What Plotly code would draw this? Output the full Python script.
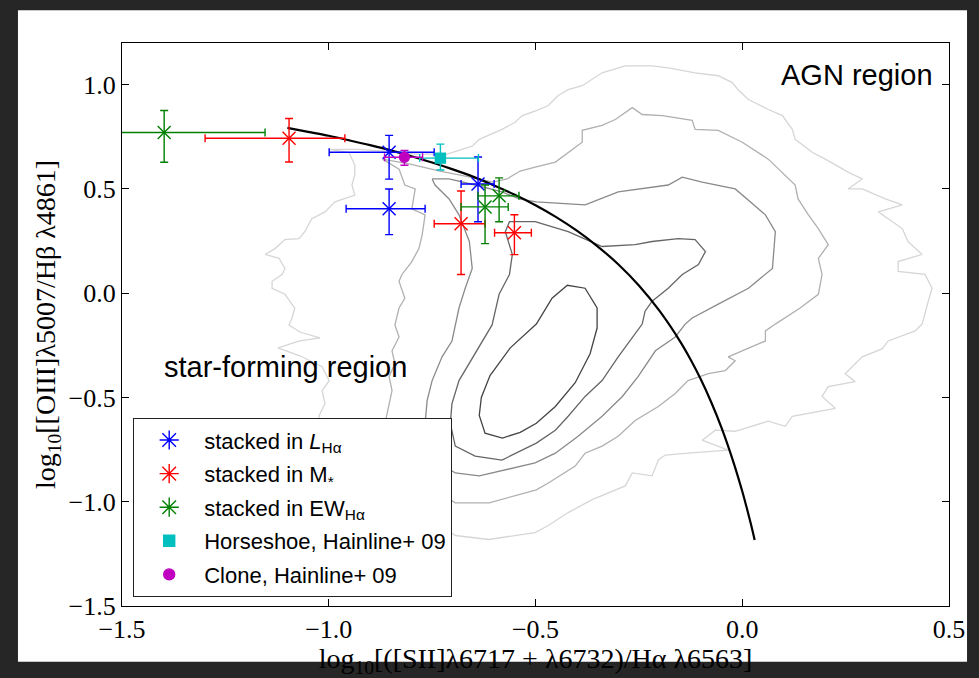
import plotly.graph_objects as go

# ---------------- data ----------------
# stacked in L_Halpha (blue)
lha_x = [-0.854, -0.854, -0.639]
lha_y = [0.676, 0.405, 0.524]
lha_xm = [0.145, 0.104, 0.041]
lha_xp = [0.109, 0.087, 0.039]
lha_yp = [0.081, 0.095, 0.129]
lha_ym = [0.129, 0.124, 0.181]

# stacked in M* (red)
mst_x = [-1.096, -0.680, -0.551]
mst_y = [0.743, 0.333, 0.290]
mst_xm = [0.203, 0.065, 0.048]
mst_xp = [0.135, 0.058, 0.041]
mst_yp = [0.095, 0.157, 0.086]
mst_ym = [0.114, 0.243, 0.105]

# stacked in EW_Halpha (green)
ew_x = [-1.398, -0.622, -0.588]
ew_y = [0.771, 0.414, 0.467]
ew_xm = [0.30, 0.058, 0.051]
ew_xp = [0.244, 0.056, 0.048]
ew_yp = [0.105, 0.105, 0.086]
ew_ym = [0.143, 0.176, 0.124]

# Horseshoe (cyan) and Clone (magenta), Hainline+09
hs_x, hs_y = [-0.730], [0.648]
hs_xm, hs_xp, hs_yp, hs_ym = [0.05], [0.092], [0.067], [0.057]
cl_x, cl_y = [-0.817], [0.652]
cl_xm, cl_xp, cl_yp, cl_ym = [0.048], [0.044], [0.033], [0.038]

# demarcation curve
curve_x = [-1.10, -1.05, -1.00, -0.95, -0.90, -0.85, -0.80, -0.75, -0.70, -0.65,
           -0.60, -0.55, -0.50, -0.45, -0.40, -0.35, -0.30, -0.25, -0.20, -0.15,
           -0.125, -0.10, -0.075, -0.05, -0.02, 0.00, 0.01, 0.02, 0.03]
curve_y = [0.793, 0.774, 0.755, 0.733, 0.710, 0.685, 0.657, 0.627, 0.594, 0.558,
           0.517, 0.472, 0.422, 0.365, 0.300, 0.225, 0.139, 0.037, -0.085, -0.232,
           -0.318, -0.414, -0.523, -0.646, -0.818, -0.950, -1.023, -1.100, -1.183]

# background SDSS density contours (outermost c1 ... innermost c5)
c1_x = [-1.000, -0.932, -0.859, -0.787, -0.714, -0.653, -0.636, -0.595, -0.581, -0.550,
        -0.532, -0.498, -0.469, -0.445, -0.421, -0.387, -0.339, -0.283, -0.218, -0.179,
        -0.114, -0.058, -0.024, -0.010, 0.015, 0.063, 0.097, 0.121, 0.128, 0.169,
        0.201, 0.256, 0.290, 0.256, 0.290, 0.346, 0.387, 0.329, 0.387, 0.401,
        0.435, 0.377, 0.377, 0.442, 0.459, 0.450, 0.435, 0.418, 0.353, 0.338,
        0.290, 0.249, 0.273, 0.208, 0.193, 0.225, 0.121, 0.104, 0.063, -0.017,
        -0.065, -0.097, -0.034, -0.131, -0.186, -0.203, -0.218, -0.266, -0.283, -0.363,
        -0.421, -0.469, -0.501, -0.550, -0.612, -0.694, -0.828, -0.973, -1.016, -1.024,
        -1.009, -1.016, -0.999, -1.016, -1.070, -1.123, -1.070, -1.021, -1.070, -1.096,
        -1.089, -1.082, -1.106, -1.137, -1.137, -1.113, -1.106, -1.120, -1.154, -1.130,
        -1.106, -1.072, -1.058, -1.041, -1.009, -0.985, -0.937, -0.944, -0.937, -0.937,
        -0.951, -1.000]
c1_y = [0.690, 0.690, 0.681, 0.667, 0.667, 0.705, 0.738, 0.771, 0.786, 0.819,
        0.852, 0.876, 0.900, 0.948, 0.976, 0.995, 1.057, 1.090, 1.090, 1.081,
        1.057, 1.043, 1.010, 0.976, 0.929, 0.881, 0.852, 0.786, 0.738, 0.676,
        0.643, 0.581, 0.548, 0.500, 0.500, 0.452, 0.424, 0.390, 0.310, 0.248,
        0.186, 0.152, 0.105, 0.090, 0.024, -0.038, -0.148, -0.181, -0.229, -0.267,
        -0.305, -0.386, -0.424, -0.448, -0.495, -0.552, -0.590, -0.638, -0.614, -0.662,
        -0.657, -0.705, -0.752, -0.767, -0.776, -0.800, -0.876, -0.862, -0.924, -0.990,
        -1.052, -1.114, -1.148, -1.162, -1.181, -1.162, -0.976, -0.738, -0.624, -0.590,
        -0.529, -0.467, -0.419, -0.352, -0.300, -0.262, -0.229, -0.214, -0.186, -0.152,
        -0.119, -0.071, -0.005, 0.024, 0.057, 0.090, 0.119, 0.167, 0.186, 0.214,
        0.257, 0.262, 0.295, 0.357, 0.390, 0.438, 0.471, 0.519, 0.567, 0.614,
        0.676, 0.690]

c2_x = [-0.870, -0.830, -0.816, -0.791, -0.799, -0.767, -0.774, -0.782, -0.799, -0.823,
        -0.830, -0.816, -0.830, -0.840, -0.830, -0.847, -0.840, -0.854, -0.847, -0.854,
        -0.864, -0.828, -0.694, -0.612, -0.498, -0.469, -0.404, -0.380, -0.339, -0.300,
        -0.259, -0.203, -0.162, -0.131, -0.082, -0.041, -0.017, -0.034, 0.000, 0.056,
        0.056, 0.080, 0.140, 0.184, 0.193, 0.184, 0.208, 0.184, 0.160, 0.135,
        0.128, 0.087, 0.063, 0.000, -0.058, -0.114, -0.121, -0.193, -0.242, -0.266,
        -0.307, -0.339, -0.387, -0.387, -0.421, -0.452, -0.501, -0.537, -0.569, -0.603,
        -0.658, -0.731, -0.803, -0.870]
c2_y = [0.643, 0.595, 0.519, 0.500, 0.405, 0.376, 0.281, 0.214, 0.152, 0.090,
        0.057, -0.024, -0.071, -0.152, -0.210, -0.276, -0.338, -0.400, -0.467, -0.529,
        -0.624, -0.833, -1.005, -1.005, -0.943, -0.910, -0.829, -0.767, -0.733, -0.686,
        -0.610, -0.543, -0.481, -0.419, -0.386, -0.371, -0.324, -0.305, -0.276, -0.229,
        -0.181, -0.148, -0.071, -0.005, 0.090, 0.167, 0.233, 0.310, 0.376, 0.452,
        0.519, 0.595, 0.643, 0.724, 0.781, 0.786, 0.829, 0.852, 0.857, 0.890,
        0.833, 0.805, 0.781, 0.724, 0.676, 0.629, 0.605, 0.586, 0.548, 0.533,
        0.557, 0.586, 0.619, 0.643]

c3_x = [-0.750, -0.709, -0.646, -0.581, -0.539, -0.498, -0.380, -0.300, -0.179, -0.145,
        -0.097, -0.017, 0.056, 0.080, 0.073, 0.015, -0.058, -0.121, -0.138, -0.162,
        -0.210, -0.227, -0.252, -0.290, -0.339, -0.397, -0.452, -0.501, -0.636, -0.694,
        -0.755, -0.767, -0.762, -0.750, -0.726, -0.702, -0.694, -0.685, -0.670, -0.653,
        -0.660, -0.685, -0.709, -0.743, -0.750]
c3_y = [0.548, 0.548, 0.519, 0.486, 0.452, 0.438, 0.424, 0.486, 0.519, 0.557,
        0.533, 0.500, 0.376, 0.295, 0.119, 0.024, -0.052, -0.119, -0.148, -0.210,
        -0.276, -0.324, -0.400, -0.495, -0.590, -0.686, -0.767, -0.814, -0.876, -0.862,
        -0.786, -0.624, -0.514, -0.419, -0.305, -0.229, -0.152, -0.071, 0.024, 0.119,
        0.248, 0.376, 0.452, 0.519, 0.548]

c4_x = [-0.501, -0.563, -0.573, -0.556, -0.563, -0.588, -0.605, -0.646, -0.685, -0.702,
        -0.706, -0.694, -0.646, -0.581, -0.498, -0.452, -0.421, -0.380, -0.339, -0.300,
        -0.266, -0.242, -0.235, -0.218, -0.179, -0.145, -0.106, -0.089, -0.114, -0.155,
        -0.218, -0.259, -0.339, -0.421, -0.501]
c4_y = [0.343, 0.343, 0.295, 0.186, 0.090, -0.005, -0.152, -0.290, -0.419, -0.529,
        -0.624, -0.733, -0.781, -0.800, -0.719, -0.657, -0.590, -0.495, -0.419, -0.305,
        -0.210, -0.148, -0.086, -0.038, 0.024, 0.090, 0.138, 0.200, 0.257, 0.262,
        0.248, 0.233, 0.224, 0.295, 0.343]

c5_x = [-0.498, -0.460, -0.423, -0.380, -0.351, -0.351, -0.368, -0.404, -0.452, -0.498,
        -0.537, -0.580, -0.622, -0.636, -0.631, -0.610, -0.561, -0.498]
c5_y = [-0.148, -0.024, 0.038, 0.024, -0.071, -0.167, -0.290, -0.429, -0.543, -0.624,
        -0.667, -0.695, -0.671, -0.586, -0.500, -0.395, -0.262, -0.148]

x_ticks = [-1.5, -1.0, -0.5, 0.0, 0.5]
y_ticks = [-1.5, -1.0, -0.5, 0.0, 0.5, 1.0]

# ---------------- figure ----------------
SERIF = "Liberation Serif"
SANS = "Liberation Sans"

fig = go.Figure()

contours = [(c1_x, c1_y, "#d6d6d6"), (c2_x, c2_y, "#b0b0b0"), (c3_x, c3_y, "#8a8a8a"),
            (c4_x, c4_y, "#666666"), (c5_x, c5_y, "#444444")]
for cx, cy, col in contours:
    fig.add_trace(go.Scatter(x=cx, y=cy, mode="lines", line=dict(color=col, width=1.3),
                             showlegend=False, hoverinfo="skip"))

fig.add_trace(go.Scatter(x=curve_x, y=curve_y, mode="lines", line=dict(color="black", width=2.2),
                         line_shape="spline", showlegend=False))


def series(x, y, xm, xp, ym, yp, color, symbol, size, name, legsym, legsize):
    fig.add_trace(go.Scatter(
        x=x, y=y, mode="markers", showlegend=False,
        marker=dict(symbol=symbol, size=size, color=color, line=dict(color=color, width=1.4)),
        error_x=dict(type="data", symmetric=False, array=xp, arrayminus=xm, color=color,
                     thickness=1.4, width=4),
        error_y=dict(type="data", symmetric=False, array=yp, arrayminus=ym, color=color,
                     thickness=1.4, width=4)))
    fig.add_trace(go.Scatter(
        x=[None], y=[None], mode="markers", name=name, legendgroup=name,
        marker=dict(symbol=legsym, size=legsize, color=color, line=dict(color=color, width=1.4))))


series(lha_x, lha_y, lha_xm, lha_xp, lha_ym, lha_yp, "#0000ff", "x-thin-open", 13,
       "stacked in <i>L</i><sub>Hα</sub>", "asterisk-open", 16)
series(mst_x, mst_y, mst_xm, mst_xp, mst_ym, mst_yp, "#ff0000", "x-thin-open", 13,
       "stacked in M<sub>*</sub>", "asterisk-open", 16)
series(ew_x, ew_y, ew_xm, ew_xp, ew_ym, ew_yp, "#008000", "x-thin-open", 13,
       "stacked in EW<sub>Hα</sub>", "asterisk-open", 16)
series(hs_x, hs_y, hs_xm, hs_xp, hs_ym, hs_yp, "#00bfbf", "square", 10,
       "Horseshoe, Hainline+ 09", "square", 11)
series(cl_x, cl_y, cl_xm, cl_xp, cl_ym, cl_yp, "#bf00bf", "circle", 10,
       "Clone, Hainline+ 09", "circle", 11)

fig.add_annotation(x=0.467, y=1.048, xref="x", yref="y", text="AGN region", showarrow=False,
                   xanchor="right", yanchor="middle", font=dict(family=SANS, size=29, color="black"))
fig.add_annotation(x=-1.403, y=-0.352, xref="x", yref="y", text="star-forming region",
                   showarrow=False, xanchor="left", yanchor="middle",
                   font=dict(family=SANS, size=29, color="black"))

# white page on dark surround
fig.add_shape(type="rect", xref="paper", yref="paper", x0=-0.1258, x1=1.0218, y0=-0.0989, y1=1.0583,
              fillcolor="white", line=dict(width=0), layer="below")

axis_common = dict(showline=True, linecolor="black", linewidth=1.2, mirror="ticks",
                   ticks="inside", ticklen=7, tickwidth=1, tickcolor="black",
                   showgrid=False, zeroline=False,
                   tickfont=dict(family=SERIF, size=26, color="black"))

fig.update_xaxes(range=[-1.5, 0.5], tickvals=x_ticks, ticktext=[f"{v:.1f}".replace("-", "−") for v in x_ticks],
                 title=dict(text="log<sub>10</sub>[([SII]λ6717 + λ6732)/Hα λ6563]",
                            font=dict(family=SERIF, size=28, color="black"), standoff=2),
                 **axis_common)
fig.update_yaxes(range=[-1.5, 1.2], tickvals=y_ticks, ticktext=[f"{v:.1f}".replace("-", "−") for v in y_ticks],
                 title=dict(text="log<sub>10</sub>[[OIII]λ5007/Hβ λ4861]",
                            font=dict(family=SERIF, size=28, color="black"), standoff=4),
                 **axis_common)

fig.update_layout(
    width=979, height=678,
    margin=dict(l=122, r=30, t=43, b=69),
    paper_bgcolor="#262626", plot_bgcolor="white",
    showlegend=True,
    legend=dict(x=0.0133, y=0.016, xanchor="left", yanchor="bottom",
                bgcolor="white", bordercolor="#222222", borderwidth=1.2,
                font=dict(family=SANS, size=22, color="black"),
                tracegroupgap=2, itemwidth=60),
)

fig.write_html("out.html")
